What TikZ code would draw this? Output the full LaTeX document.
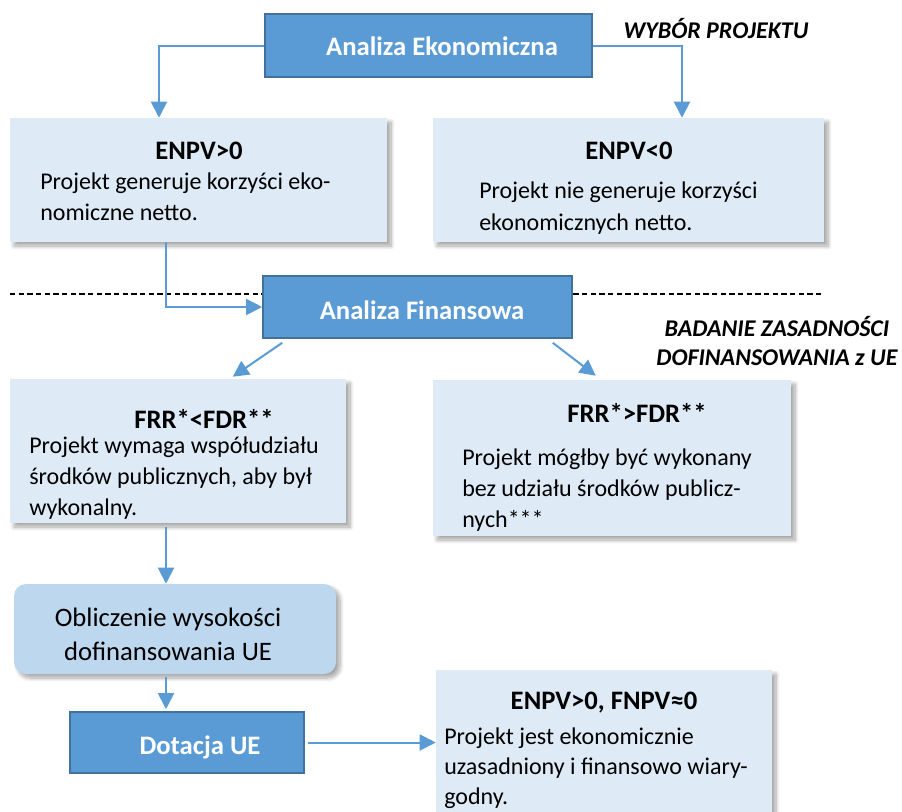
\documentclass[tikz,border=0pt]{standalone}
\usepackage{fontspec}
\setmainfont{Carlito}
\usetikzlibrary{arrows.meta,fit,calc,shadows.blur}
\definecolor{boxblue}{HTML}{5B9BD5}
\definecolor{boxedge}{HTML}{41719C}
\definecolor{palebox}{HTML}{DEEBF7}
\definecolor{calcfill}{HTML}{BDD7EE}

\begin{document}
\begin{tikzpicture}[x=0.75pt, y=-0.75pt,
    darkbox/.style={fill=boxblue, draw=boxedge, line width=1.2pt, inner sep=0pt},
    litebox/.style={fill=palebox, inner sep=0pt,
      blur shadow={shadow xshift=3pt, shadow yshift=-3pt, shadow blur radius=3pt,
        shadow blur steps=8, shadow opacity=35}},
    headtxt/.style={font=\fontsize{20}{24}\selectfont\bfseries, text=white, inner sep=0pt},
    titletxt/.style={font=\fontsize{20}{24}\selectfont\bfseries, inner sep=0pt},
    bodytxt/.style={font=\fontsize{18}{23.5}\selectfont, align=left, anchor=west, inner sep=0pt},
    notetxt/.style={font=\fontsize{18}{21.75}\selectfont\bfseries\itshape, align=center, inner sep=0pt},
    arr/.style={draw=boxblue, line width=1.5pt, -{Triangle[length=12pt, width=12pt]}}]
  \useasboundingbox (0,0) rectangle (902,811);

  % separator
  \draw[dashed, dash pattern=on 4pt off 2.5pt, line width=1pt] (10,294) -- (824,294);

  % economic analysis
  \node[darkbox, fit={(265,14) (592,77)}] (ekon) {};
  \node[headtxt] (ekontxt) at (442,46) {Analiza Ekonomiczna};
  \node[notetxt] (wybor) at (716,29) {WYBÓR PROJEKTU};

  \node[litebox, fit={(10,118) (387,242)}] (enpvpos) {};
  \node[titletxt] (enpvpostit) at (199,151) {ENPV>0};
  \node[bodytxt] (enpvposbody) at (40,197) {Projekt generuje korzyści eko-\\nomiczne netto.};

  \node[litebox, fit={(433,118) (824,242)}] (enpvneg) {};
  \node[titletxt] (enpvnegtit) at (629,151) {ENPV<0};
  \node[bodytxt] (enpvnegbody) at (479,208) {Projekt nie generuje korzyści\\ekonomicznych netto.};

  % financial analysis
  \node[darkbox, fit={(263,276) (572,338)}] (finan) {};
  \node[headtxt] (finantxt) at (422,310) {Analiza Finansowa};
  \node[notetxt] (badanie) at (777,341) {BADANIE ZASADNOŚCI\\DOFINANSOWANIA z UE};

  \node[litebox, fit={(10,379) (346,523)}] (frrlt) {};
  \node[titletxt] (frrlttit) at (204,419) {FRR*<FDR**};
  \node[bodytxt] (frrltbody) at (29,478) {Projekt wymaga współudziału\\środków publicznych, aby był\\wykonalny.};

  \node[litebox, fit={(433,380) (791,536)}] (frrgt) {};
  \node[titletxt] (frrgttit) at (637,413) {FRR*>FDR**};
  \node[bodytxt] (frrgtbody) at (462,490) {Projekt mógłby być wykonany\\bez udziału środków publicz-\\nych***};

  % EU grant
  \node[litebox, fill=calcfill, rounded corners=9pt, fit={(14,584) (336,674)}] (oblicz) {};
  \node[font=\fontsize{20}{25.5}\selectfont, align=center, inner sep=0pt] (obliczttxt) at (168,634) {Obliczenie wysokości\\dofinansowania UE};

  \node[darkbox, fit={(70,712) (304,773)}] (dotacja) {};
  \node[headtxt] (dotacjatxt) at (200,747) {Dotacja UE};

  \node[litebox, fit={(436,670) (772,830)}] (wynik) {};
  \node[titletxt] (wyniktit) at (604,703) {ENPV>0, FNPV≈0};
  \node[bodytxt, font=\fontsize{18}{22.5}\selectfont] (wynikbody) at (444,768) {Projekt jest ekonomicznie\\uzasadniony i finansowo wiary-\\godny.};

  % connectors
  \draw[arr] (ekon.west) -| ($(enpvpos.north)+(-39.5,0)$);
  \draw[arr] (ekon.east) -| ($(enpvneg.north)+(53.5,0)$);
  \draw[arr, line width=1.2pt] ($(enpvpos.south)+(-32.5,0)$) |- (finan.west);
  \draw[arr] ($(finan.south west)+(20,4)$) -- ($(frrlt.north west)+(223,-2)$);
  \draw[arr] ($(finan.south east)+(-20,4)$) -- ($(frrgt.north west)+(163,-4)$);
  \draw[arr] ($(frrlt.south)+(-12,4)$) -- ($(oblicz.north)+(-9,0)$);
  \draw[arr] ($(oblicz.south)+(-9,3)$) -- ($(dotacja.north)+(-21,-2)$);
  \draw[arr] ($(dotacja.east)+(3,0)$) -- (dotacja.east -| wynik.west);
\end{tikzpicture}
\end{document}
